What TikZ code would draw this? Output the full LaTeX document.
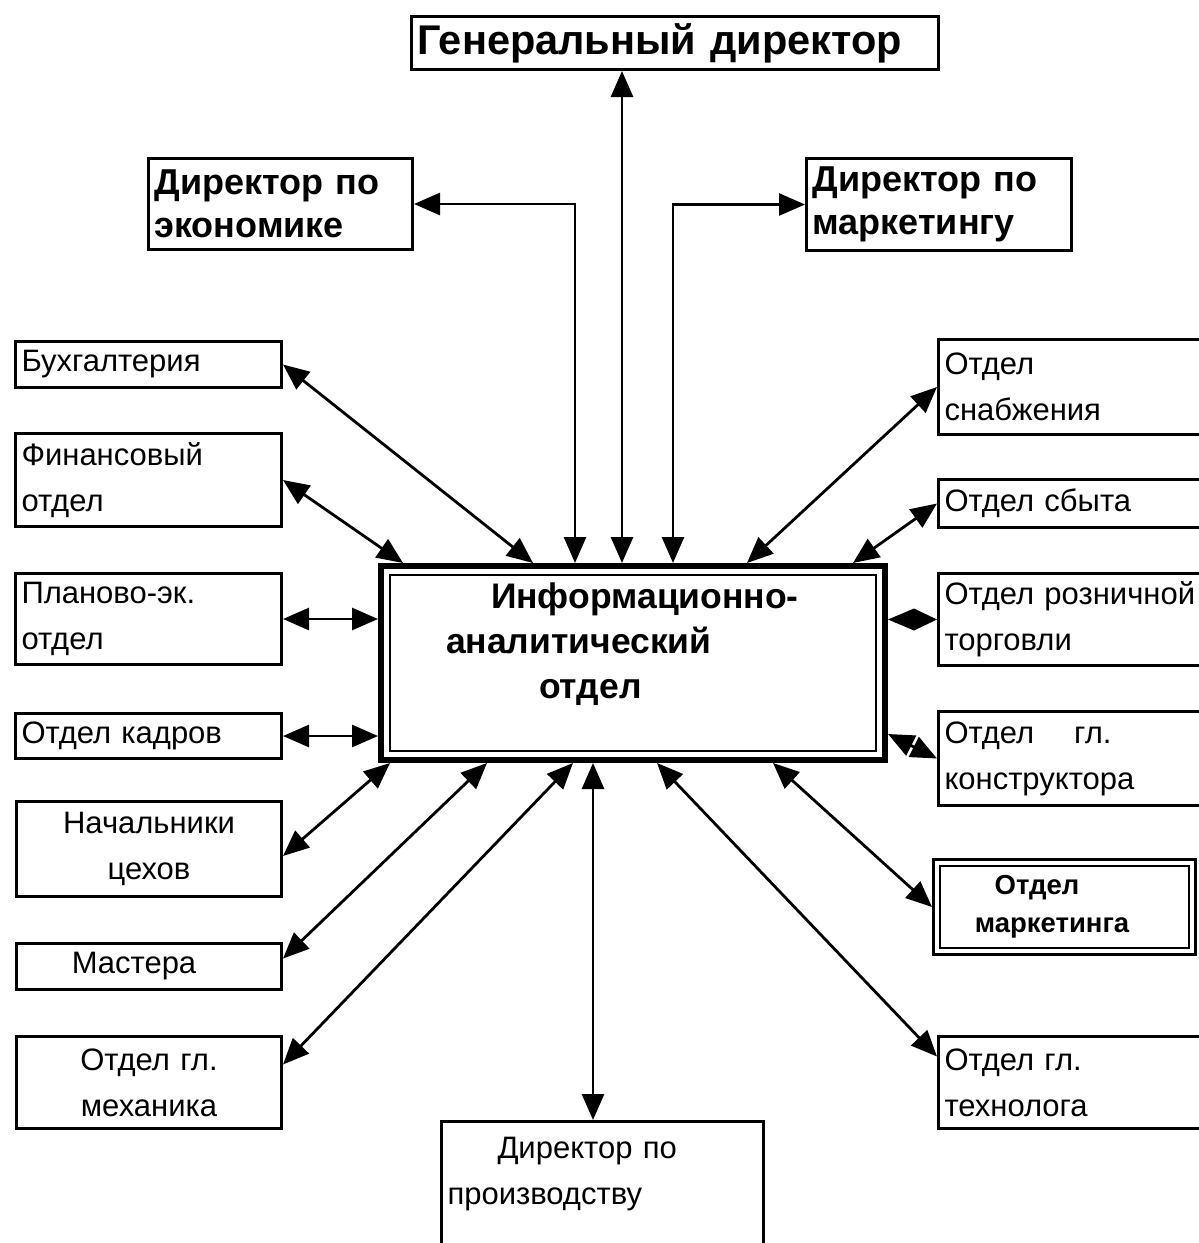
\documentclass[tikz,border=0pt]{standalone}
\usepackage{fontspec}
\setmainfont{Liberation Sans}
\usetikzlibrary{arrows.meta}
\begin{document}
\begin{tikzpicture}[x=1pt,y=-1pt,
 box/.style={draw, line width=3pt, anchor=north west, inner xsep=6pt, inner ysep=0pt, align=left, font=\fontsize{31}{46}\selectfont},
 bbox/.style={box, font=\bfseries\fontsize{36}{43}\selectfont},
 arr/.style={line width=2.8pt, {Triangle[length=26pt,width=22pt]}-{Triangle[length=26pt,width=22pt]}}
]
\useasboundingbox (0,0) rectangle (1199,1243);
\fill[white] (0,0) rectangle (1199,1243);

% top
\node[bbox, font=\bfseries\fontsize{41.5}{46}\selectfont, minimum width=527pt, text width=515pt, minimum height=53pt] (gen) at (410,15) {Генеральный директор};
\node[bbox, minimum width=264pt, text width=252pt, minimum height=91pt] (eco) at (147,157) {Директор по\\экономике};
\node[bbox, minimum width=265pt, text width=253pt, minimum height=92pt] (mkt) at (805,157) {Директор по\\маркетингу};

% centre
\node[box, line width=6pt, inner xsep=10pt, minimum width=504pt, text width=484pt, minimum height=194pt, font=\bfseries\fontsize{35.5}{45}\selectfont] (c) at (378,563)
 {\hspace*{100pt}Информационно-\\\hspace*{55pt}аналитический\\\hspace*{148pt}отдел\\~};
\draw[line width=1.2pt] ([shift={(12pt,-12pt)}]c.north west) rectangle ([shift={(-12pt,12pt)}]c.south east);

% left
\node[box, minimum width=266pt, text width=254pt, minimum height=46pt] (buh) at (14,340) {Бухгалтерия};
\node[box, minimum width=266pt, text width=254pt, minimum height=93pt] (fin) at (14,432) {Финансовый\\отдел};
\node[box, minimum width=266pt, text width=254pt, minimum height=91pt] (plan) at (14,572) {Планово-эк.\\отдел};
\node[box, minimum width=266pt, text width=254pt, minimum height=45pt] (kadr) at (14,712) {Отдел кадров};
\node[box, align=center, minimum width=265pt, text width=253pt, minimum height=95pt] (nach) at (15,800) {Начальники\\цехов};
\node[box, align=center, minimum width=265pt, text width=253pt, minimum height=46pt] (mast) at (15,942) {Мастера\makebox[30pt]{}};
\node[box, align=center, minimum width=265pt, text width=253pt, minimum height=92pt] (mech) at (15,1035) {Отдел гл.\\механика};

% bottom
\node[box, minimum width=322pt, text width=310pt, minimum height=145pt] (prod) at (440,1120) {\hspace*{50pt}Директор по\\производству\\~};

% right
\node[box, minimum width=270pt, text width=258pt, minimum height=95pt] (snab) at (937,338) {Отдел\\снабжения};
\node[box, minimum width=270pt, text width=258pt, minimum height=48pt] (sbyt) at (937,478) {Отдел сбыта};
\node[box, minimum width=270pt, text width=258pt, minimum height=92pt] (rozn) at (937,572) {Отдел розничной\\торговли};
\node[box, minimum width=270pt, text width=258pt, minimum height=94pt] (konst) at (937,710) {Отдел\hspace{40pt}гл.\\конструктора};
\node[box, line width=3pt, align=center, minimum width=262pt, text width=250pt, minimum height=95pt, font=\bfseries\fontsize{27.5}{38}\selectfont] (mrk) at (932,858) {Отдел\makebox[55pt]{}\\маркетинга\makebox[25pt]{}};
\draw[line width=1.2pt] ([shift={(8pt,-8pt)}]mrk.north west) rectangle ([shift={(-8pt,8pt)}]mrk.south east);
\node[box, minimum width=270pt, text width=258pt, minimum height=92pt] (tech) at (937,1035) {Отдел гл.\\технолога};

% connectors
\draw[arr] ([xshift=212pt]gen.south west) -- ([xshift=244pt]c.north west);
\draw[arr] (eco.east) -| ([xshift=197pt]c.north west);
\draw[arr] ([xshift=295pt]c.north west) |- (mkt.west);
\draw[arr] (buh.east) -- ([xshift=155pt]c.north west);
\draw[arr] (fin.east) -- ([xshift=25pt]c.north west);
\draw[arr] (plan.east) -- (plan.east -| c.west);
\draw[arr] (kadr.east) -- (kadr.east -| c.west);
\draw[arr] ([yshift=-7pt]nach.east) -- ([xshift=12pt]c.south west);
\draw[arr] ([yshift=8pt]mast.east) -- ([xshift=109pt]c.south west);
\draw[arr] ([yshift=18pt]mech.east) -- ([xshift=195pt]c.south west);
\draw[arr] ([xshift=215pt]c.south west) -- ([xshift=153pt]prod.north west);
\draw[arr] ([yshift=26pt]tech.west) -- ([xshift=279pt]c.south west);
\draw[arr] (mrk.west) -- ([xshift=395pt]c.south west);
\draw[arr] ([yshift=29pt]c.south east) -- (konst.west);
\coordinate (rl) at (rozn.west -| c.east);
\fill (rl) -- ([shift={(26pt,11pt)}]rl) -- (rozn.west) -- ([shift={(26pt,-11pt)}]rl) -- cycle;
\draw[arr] (sbyt.west) -- ([xshift=475pt]c.north west);
\draw[arr] (snab.west) -- ([xshift=369pt]c.north west);
\end{tikzpicture}
\end{document}
